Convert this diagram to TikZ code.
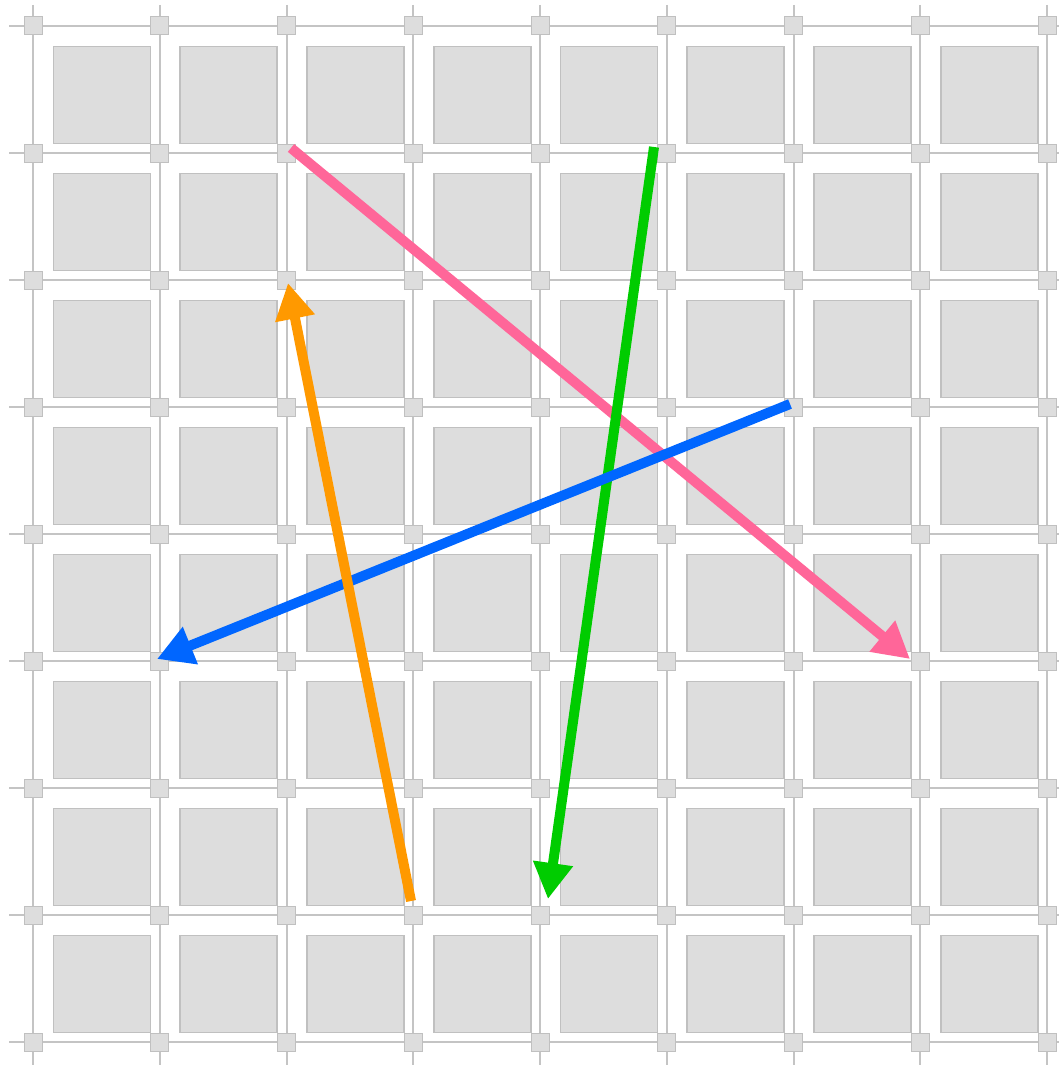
\documentclass[tikz,border=0pt]{standalone}
\usetikzlibrary{arrows.meta}
\definecolor{gridline}{HTML}{C4C4C4}
\definecolor{boxfill}{HTML}{DDDDDD}
\definecolor{boxline}{HTML}{C0C0C0}
\definecolor{apink}{HTML}{FF6699}
\definecolor{agreen}{HTML}{00CC00}
\definecolor{ablue}{HTML}{0066FF}
\definecolor{aorange}{HTML}{FF9900}
\tikzset{
  gridln/.style={draw=gridline, line width=2pt},
  joint/.style={draw=boxline, fill=boxfill, line width=1pt, minimum size=18pt, inner sep=0pt, shape=rectangle},
  cellbox/.style={draw=boxline, fill=boxfill, line width=1.6pt, minimum size=97pt, inner sep=0pt, shape=rectangle},
  bigarrow/.style={line width=10pt, -{Triangle[length=36pt, width=38pt]}}
}
\begin{document}
\begin{tikzpicture}[x=1pt, y=-1pt]
\useasboundingbox (0,0) rectangle (1059,1065);
\fill[white] (0,0) rectangle (1059,1065);
% grid lines
\foreach \i in {0,...,8} {
  \pgfmathsetmacro{\gx}{33+126.75*\i}
  \pgfmathsetmacro{\gy}{26+127*\i}
  \draw[gridln] (\gx,5) -- (\gx,1065);
  \draw[gridln] (9,\gy) -- (1059,\gy);
}
% cell boxes
\foreach \i in {0,...,7} {
  \foreach \j in {0,...,7} {
    \pgfmathsetmacro{\cx}{33+126.75*\i+69}
    \pgfmathsetmacro{\cy}{26+127*\j+69}
    \node[cellbox] (box-\i-\j) at (\cx,\cy) {};
  }
}
% joints
\foreach \i in {0,...,8} {
  \foreach \j in {0,...,8} {
    \pgfmathsetmacro{\gx}{33+126.75*\i}
    \pgfmathsetmacro{\gy}{26+127*\j}
    \node[joint] (joint-\i-\j) at (\gx,\gy) {};
  }
}
% arrow endpoints
\coordinate (pinkS) at (291,148);
\coordinate (pinkE) at (910,659);
\coordinate (greenS) at (654,147);
\coordinate (greenE) at (548,899);
\coordinate (blueS) at (790,404);
\coordinate (blueE) at (157,659);
\coordinate (orangeS) at (411,901);
\coordinate (orangeE) at (288,283);
\draw[bigarrow, draw=apink, fill=apink] (pinkS) -- (pinkE);
\draw[bigarrow, draw=agreen, fill=agreen] (greenS) -- (greenE);
\draw[bigarrow, draw=ablue, fill=ablue] (blueS) -- (blueE);
\draw[bigarrow, draw=aorange, fill=aorange] (orangeS) -- (orangeE);
\end{tikzpicture}
\end{document}
